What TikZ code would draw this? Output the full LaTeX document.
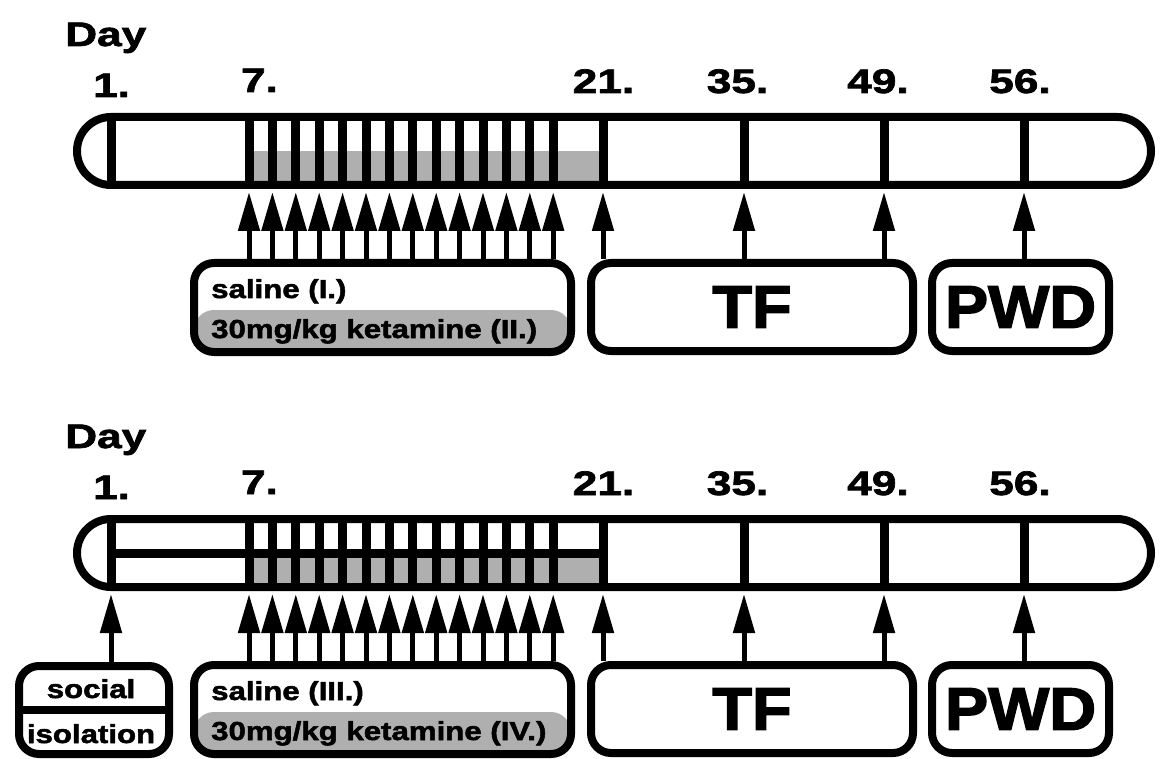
\documentclass[tikz,border=0pt]{standalone}
\usepackage{fontspec}
\setmainfont{Liberation Sans}
\newfontfamily\dayfont{Liberation Sans}[FakeStretch=1.3, FakeBold=2]
\newfontfamily\boxfont{Liberation Sans}[FakeStretch=1.2, FakeBold=2]
\newfontfamily\bigfont{Liberation Sans}[FakeStretch=1.08, FakeBold=2.5]
\usetikzlibrary{arrows.meta}
\definecolor{dosegray}{RGB}{175,175,175}
\tikzset{
  schedule chart/.style={
    time bar/.style={draw, line width=8pt, rounded corners=34pt, minimum width=1074pt, minimum height=68pt, inner sep=0pt},
    day tick/.style={line width=9pt},
    mid line/.style={line width=9pt},
    dose fill/.style={fill=dosegray},
    group box/.style={draw, line width=8pt, rounded corners=20pt, inner sep=0pt},
    half gray/.style={path picture={\fill[dosegray] ([yshift=-2.5pt]path picture bounding box.west) rectangle (path picture bounding box.south east);}},
    day label/.style={anchor=base, inner sep=0pt, font={\dayfont\bfseries\fontsize{34}{40}\selectfont}},
    box text/.style={inner sep=0pt, font={\boxfont\bfseries\fontsize{26}{30}\selectfont}},
    big text/.style={font={\bigfont\bfseries\fontsize{60}{70}\selectfont}},
    dose arrow/.style={line width=5pt, -{Triangle[length=39pt,width=21pt]}, shorten >=3pt},
  }
}
\newcommand{\schedule}[4][]{
    \begin{scope}[#1]
    % days 7 to 20
    \fill[dose fill] (249,151) rectangle (603,185);
    \foreach \x/\d in {111/1,603/21,744/35,884/49,1024/56}{
        \draw[day tick] (\x,117) -- (\x,185);
        \coordinate (#2d\d) at (\x,189);
    }
    \foreach \i in {0,...,13}{
        \pgfmathsetmacro{\tx}{249+23.4*\i}
        \draw[day tick] (\tx,117) -- (\tx,185);
        \coordinate (#2i\i) at (\tx,189);
    }
    \node[time bar] (#2bar) at (614,151) {};
    \node[day label, anchor=base west] (#2day) at (65,46) {Day};
    \foreach \x/\d/\b in {111.5/1/97,259.5/7/92,603.5/21/93,737.5/35/93,878/49/93,1020/56/93}
        \node[day label] (#2l\d) at (\x,\b) {\d.};
    % boxes
    \node[group box, half gray, minimum width=377pt, minimum height=89pt] (#2sal) at (382.5,307.5) {};
    \node[box text, anchor=base west] (#2salA) at (211,298) {#3};
    \node[box text, anchor=base west] (#2salB) at (211,338) {#4};
    \node[group box, big text, minimum width=322pt, minimum height=88pt] (#2tf) at (752,307) {TF};
    \node[group box, big text, minimum width=177pt, minimum height=88pt] (#2pwd) at (1020.5,307) {PWD};
    % arrows
    \foreach \i in {0,...,13}
        \draw[dose arrow] (#2i\i |- #2sal.north) -- (#2i\i);
    \foreach \d in {21,35,49}
        \draw[dose arrow] (#2d\d |- #2tf.north) -- (#2d\d);
    \draw[dose arrow] (#2d56 |- #2pwd.north) -- (#2d56);
    \end{scope}
}
\begin{document}
\begin{tikzpicture}[schedule chart, x=1pt, y=-1pt]
    \useasboundingbox (0,0) rectangle (1175,759);
    \fill[white] (0,0) rectangle (1175,759);

    \schedule{top}{saline (I.)}{30mg/kg ketamine (II.)}
    \schedule[shift={(0,402)}]{bot}{saline (III.)}{30mg/kg ketamine (IV.)}

    \draw[mid line] (111,553) -- (603,553);
    \node[group box, minimum width=150pt, minimum height=88pt] (soc) at (94,710) {};
    \draw[line width=8pt] (soc.west) -- (soc.east);
    \node[box text, anchor=base] (socA) at (91,698) {social};
    \node[box text, anchor=base] (socB) at (91,743) {isolation};
    \draw[dose arrow] (botd1 |- soc.north) -- (botd1);
\end{tikzpicture}
\end{document}
